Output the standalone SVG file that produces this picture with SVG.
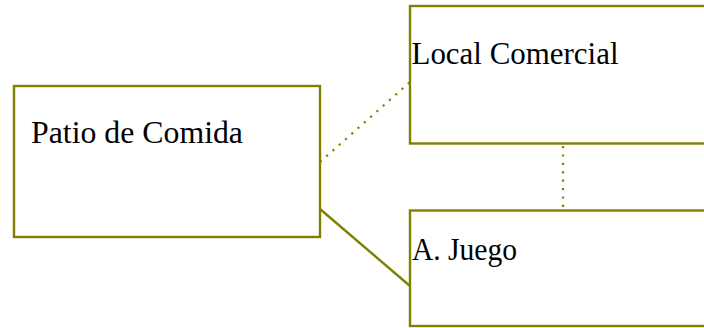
<svg xmlns="http://www.w3.org/2000/svg" width="704" height="328" viewBox="0 0 704 328">
<style>
.box{fill:#ffffff;stroke:#808000;stroke-width:2.4}
.lbl{font-family:"Liberation Serif","Times New Roman",serif;font-size:31px;fill:#000000}
.dot{stroke:#808000;stroke-width:2.2;stroke-dasharray:2.2 6.2;fill:none}
.sol{stroke:#808000;stroke-width:2.4;fill:none}
</style>
<rect width="704" height="328" fill="#ffffff"/>
<g id="connectors">
<line class="dot" x1="320" y1="162" x2="410" y2="82"/>
<line class="dot" x1="563" y1="146" x2="563" y2="210"/>
<line class="sol" x1="320" y1="209" x2="410" y2="286"/>
</g>
<g id="patio">
<rect class="box" x="14" y="86" width="306" height="151"/>
<text class="lbl" x="31" y="143" textLength="212" lengthAdjust="spacingAndGlyphs">Patio de Comida</text>
</g>
<g id="local">
<rect class="box" x="410" y="6" width="306" height="137.5"/>
<text class="lbl" x="411.5" y="63.5" textLength="207" lengthAdjust="spacingAndGlyphs">Local Comercial</text>
</g>
<g id="juego">
<rect class="box" x="410" y="210.5" width="306" height="115.5"/>
<text class="lbl" x="412" y="259.5" textLength="105" lengthAdjust="spacingAndGlyphs">A. Juego</text>
</g>
</svg>
